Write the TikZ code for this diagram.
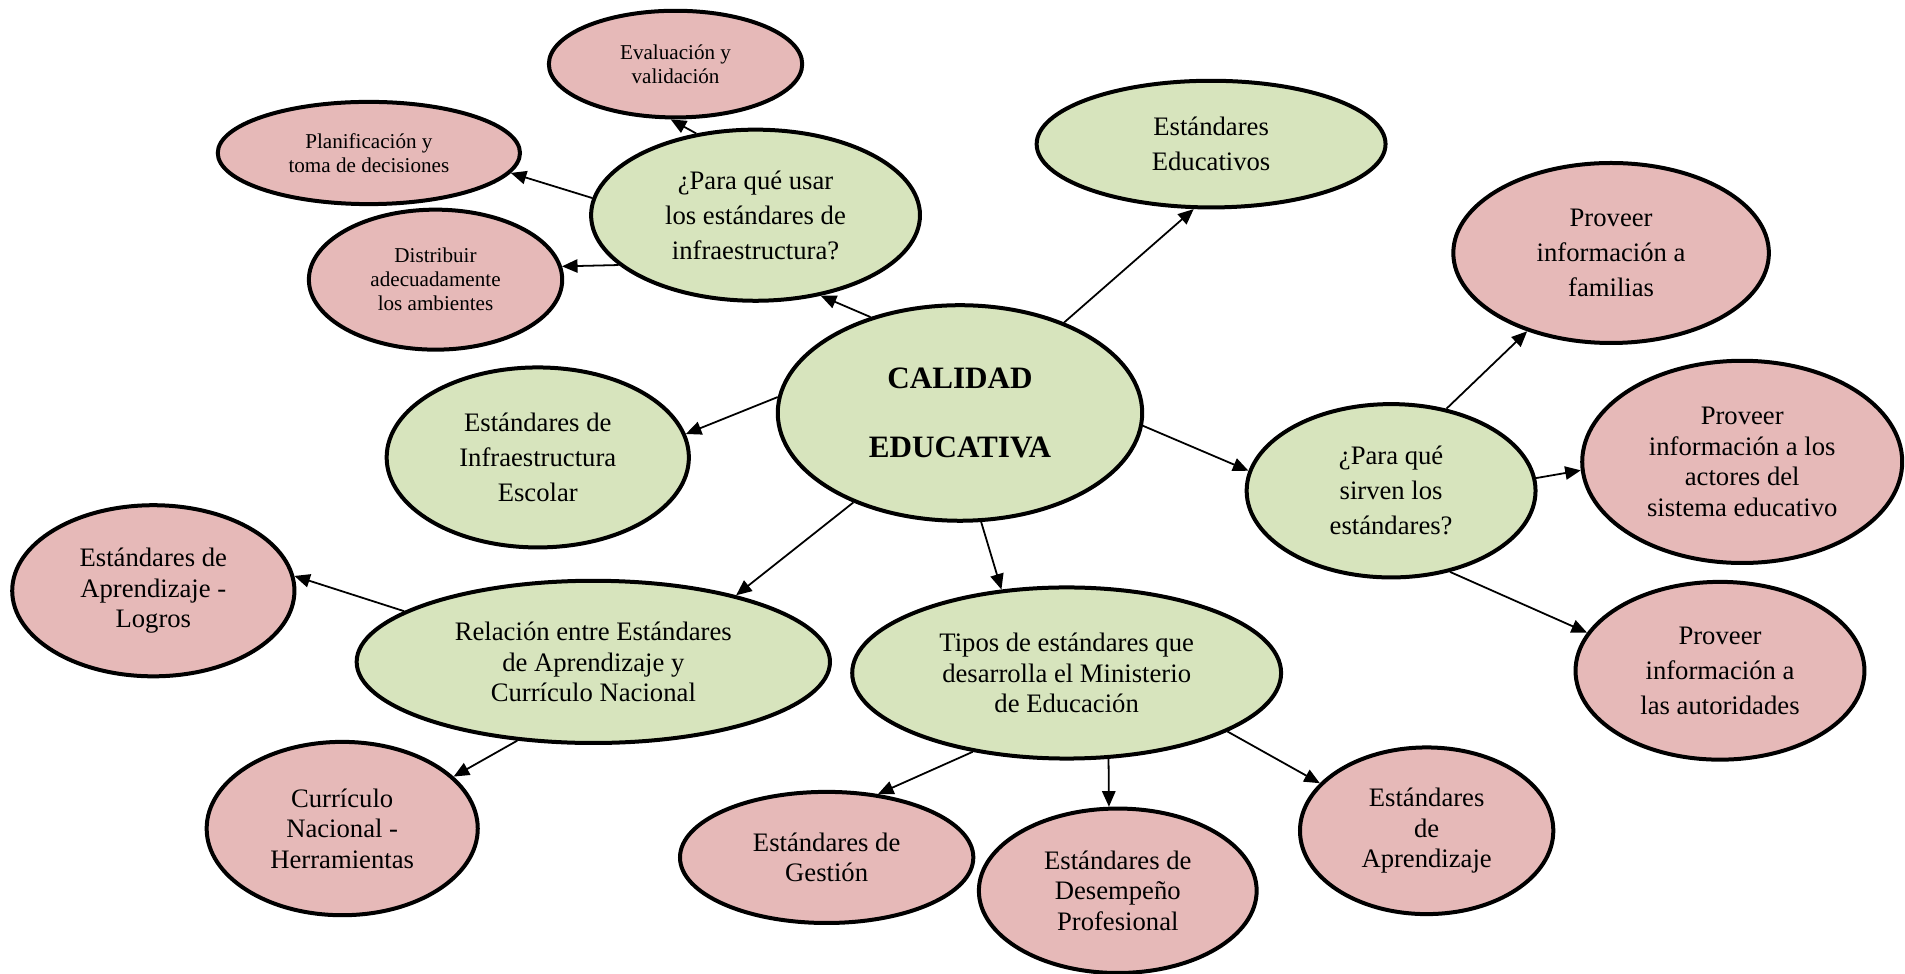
\documentclass[tikz,border=0pt]{standalone}
\usepackage{fontspec}
\setmainfont{Liberation Serif}
\usetikzlibrary{shapes.geometric, arrows.meta}
\definecolor{verde}{RGB}{215,228,189}
\definecolor{rosa}{RGB}{230,185,184}
\tikzstyle{tema} = [ellipse, 
inner sep=0pt,
text centered, 
align=center,
line width=1.8pt,
draw=black, 
fill=verde,
font=\fontsize{12}{13.7}\selectfont]
\tikzstyle{idea} = [tema, 
fill=rosa]
\tikzstyle{nota} = [idea, 
font=\fontsize{9.5}{10.8}\selectfont]
\tikzstyle{amplio} = [font=\fontsize{12}{15.8}\selectfont] % interlineado 1.5
\tikzstyle{arrow} = [thick,-{Triangle[length=7pt,width=6pt]}]

\begin{document}
\begin{tikzpicture}[node distance=2cm]
\useasboundingbox (-432pt,-252.45pt) rectangle (425.25pt,185.85pt);

\node (calidad) [tema, minimum width=164pt, minimum height=97pt, font=\fontsize{14}{31}\selectfont\bfseries] {CALIDAD\\EDUCATIVA};

% rama superior izquierda
\node (usar) [tema, amplio, left of=calidad, node distance=92pt, yshift=89pt, minimum width=148pt, minimum height=77pt] {¿Para qué usar\\los estándares de\\infraestructura?};
\node (evaluacion) [nota, left of=usar, node distance=36pt, yshift=68pt, minimum width=114pt, minimum height=48pt] {Evaluación y\\validación};
\node (planificacion) [nota, left of=usar, node distance=174pt, yshift=28pt, minimum width=136pt, minimum height=46pt] {Planificación y\\toma de decisiones};
\node (distribuir) [nota, left of=usar, node distance=144pt, yshift=-29pt, minimum width=114pt, minimum height=63pt] {Distribuir\\adecuadamente\\los ambientes};
\node (infra) [tema, amplio, left of=calidad, node distance=190pt, yshift=-20pt, minimum width=136pt, minimum height=81pt] {Estándares de\\Infraestructura\\Escolar};

% rama derecha
\node (educativos) [tema, amplio, right of=calidad, node distance=113pt, yshift=121pt, minimum width=157pt, minimum height=57pt] {Estándares\\Educativos};
\node (sirven) [tema, amplio, right of=calidad, node distance=194pt, yshift=-35pt, minimum width=130pt, minimum height=78pt] {¿Para qué\\sirven los\\estándares?};
\node (familias) [idea, amplio, right of=sirven, node distance=99pt, yshift=107pt, minimum width=142pt, minimum height=81pt] {Proveer\\información a\\familias};
\node (actores) [idea, right of=sirven, node distance=158pt, yshift=13pt, minimum width=144pt, minimum height=91pt] {Proveer\\información a los\\actores del\\sistema educativo};
\node (autoridades) [idea, amplio, right of=sirven, node distance=148pt, yshift=-81pt, minimum width=130pt, minimum height=80pt] {Proveer\\información a\\las autoridades};

% rama inferior
\node (relacion) [tema, left of=calidad, node distance=165pt, yshift=-112pt, minimum width=213pt, minimum height=73pt] {Relación entre Estándares\\de Aprendizaje y\\Currículo Nacional};
\node (logros) [idea, left of=relacion, node distance=198pt, yshift=32pt, minimum width=127pt, minimum height=77pt] {Estándares de\\Aprendizaje -\\Logros};
\node (curriculo) [idea, left of=relacion, node distance=113pt, yshift=-75pt, minimum width=122pt, minimum height=78pt] {Currículo\\Nacional -\\Herramientas};
\node (tipos) [tema, right of=calidad, node distance=48pt, yshift=-117pt, minimum width=193pt, minimum height=77pt] {Tipos de estándares que\\desarrolla el Ministerio\\de Educación};
\node (gestion) [idea, left of=tipos, node distance=108pt, yshift=-83pt, minimum width=132pt, minimum height=59pt] {Estándares de\\Gestión};
\node (desempeno) [idea, right of=tipos, node distance=23pt, yshift=-98pt, minimum width=125pt, minimum height=74pt] {Estándares de\\Desempeño\\Profesional};
\node (aprendizaje) [idea, right of=tipos, node distance=162pt, yshift=-71pt, minimum width=114pt, minimum height=75pt] {Estándares\\de\\Aprendizaje};

\draw [arrow] (calidad.133) -- (usar.-51);
\draw [arrow] (calidad.175) -- (infra.9);
\draw [arrow] (calidad.41) -- (educativos.255);
\draw [arrow] (calidad.-4) -- (sirven.172);
\draw [arrow] (calidad.220) -- (relacion.25);
\draw [arrow] (calidad.281) -- (tipos.128);
\draw [arrow] (usar.126) -- (evaluacion.265);
\draw [arrow] (usar.174) -- (planificacion.-8);
\draw [arrow] (usar.200) -- (distribuir.6);
\draw [arrow] (sirven.56) -- (familias.223);
\draw [arrow] (sirven.5) -- (actores.183);
\draw [arrow] (sirven.306) -- (autoridades.164);
\draw [arrow] (relacion.165) -- (logros.6);
\draw [arrow] (relacion.226) -- (curriculo.25);
\draw [arrow] (tipos.220) -- (gestion.51);
\draw [arrow] (tipos.296) -- (desempeno.96);
\draw [arrow] (tipos.340) -- (aprendizaje.156);

\end{tikzpicture}
\end{document}
